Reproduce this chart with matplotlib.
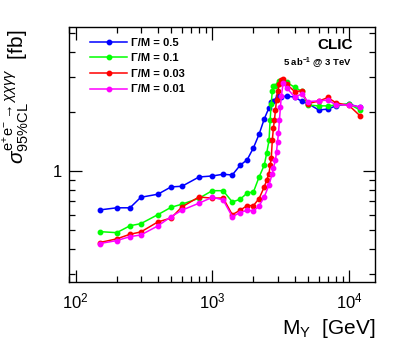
import matplotlib
matplotlib.use("Agg")
import matplotlib.pyplot as plt
from matplotlib.ticker import LogLocator, NullFormatter, FixedLocator, FixedFormatter

plt.rcParams['font.family'] = ['Liberation Sans', 'DejaVu Sans']
plt.rcParams['mathtext.fontset'] = 'custom'
plt.rcParams['mathtext.rm'] = 'Liberation Sans'
plt.rcParams['mathtext.it'] = 'Liberation Sans:italic'
plt.rcParams['mathtext.bf'] = 'Liberation Sans:bold'

# Γ/M = 0.5
m_05 = [150, 200, 250, 300, 400, 500, 600, 800, 1000, 1200, 1400, 1600, 1800, 2000,
        2200, 2400, 2600, 2700, 2800, 3000, 3200, 3500, 4000, 4500, 5000, 6000, 7000,
        8000, 10000, 12000]
s_05 = [0.634, 0.65, 0.65, 0.735, 0.762, 0.83, 0.836, 0.932, 0.943, 0.962, 0.954, 1.069,
        1.14, 1.31, 1.536, 1.836, 2.096, 2.23, 2.27, 2.40, 2.38, 2.40, 2.37, 2.26, 2.20,
        2.04, 2.06, 2.14, 2.19, 2.10]

# Γ/M = 0.1
m_01 = [150, 200, 250, 300, 400, 500, 600, 800, 1000, 1200, 1400, 1600, 1800, 2000,
        2200, 2400, 2500, 2600, 2650, 2700, 2750, 2800, 2900, 3000, 3100, 3200, 3500,
        4000, 4500, 5000, 6000, 7000, 8000, 10000, 12000]
s_01 = [0.492, 0.486, 0.527, 0.540, 0.600, 0.654, 0.678, 0.727, 0.794, 0.794, 0.696,
        0.718, 0.773, 0.782, 0.932, 1.07, 1.23, 1.43, 1.82, 2.2, 2.56, 2.70, 2.70, 2.76,
        2.85, 2.87, 2.82, 2.66, 2.54, 2.16, 2.14, 2.14, 2.16, 2.19, 2.04]

# Γ/M = 0.03
m_003 = [150, 200, 250, 300, 400, 500, 600, 800, 1000, 1200, 1400, 1600, 1800, 2000,
         2200, 2400, 2500, 2600, 2650, 2700, 2750, 2800, 2850, 2900, 2950, 3000, 3100,
         3200, 3300, 3500, 4000, 4500, 5000, 6000, 7000, 8000, 10000, 12000]
s_003 = [0.433, 0.452, 0.477, 0.490, 0.551, 0.577, 0.657, 0.738, 0.727, 0.729, 0.600,
         0.632, 0.667, 0.667, 0.724, 0.83, 0.90, 0.97, 1.07, 1.16, 1.44, 1.65, 1.82,
         2.04, 2.3, 2.55, 2.75, 2.88, 2.94, 2.76, 2.53, 2.55, 2.20, 2.26, 2.36, 2.22,
         2.15, 1.91]

# Γ/M = 0.01
m_001 = [150, 200, 250, 300, 400, 500, 600, 800, 1000, 1200, 1400, 1600, 1800, 2000,
         2200, 2400, 2600, 2750, 2800, 2900, 2950, 3000, 3050, 3100, 3150, 3200, 3300,
         3500, 4000, 4500, 5000, 6000, 7000, 8000, 10000, 12000]
s_001 = [0.428, 0.443, 0.464, 0.473, 0.526, 0.586, 0.632, 0.686, 0.735, 0.713, 0.586,
         0.615, 0.632, 0.626, 0.664, 0.738, 0.85, 0.97, 1.03, 1.14, 1.25, 1.41, 1.55,
         1.82, 2.1, 2.4, 2.79, 2.65, 2.37, 2.46, 2.25, 2.27, 2.29, 2.17, 2.16, 2.12]

labels = ['Γ/M = 0.5', 'Γ/M = 0.1', 'Γ/M = 0.03', 'Γ/M = 0.01']
colors = ['#0000ff', '#00ff00', '#ff0000', '#ff00ff']

fig = plt.figure(figsize=(4.07, 3.44), dpi=100)
ax = fig.add_axes([0.1695, 0.1802, 0.7519, 0.7413])

for m, s, c, lab in zip([m_05, m_01, m_003, m_001], [s_05, s_01, s_003, s_001], colors, labels):
    ax.plot(m, s, '-o', color=c, lw=1.1, ms=3.2, label=lab)

ax.set_xscale('log')
ax.set_yscale('log')
ax.set_xlim(89.5, 15500)
ax.set_ylim(0.273, 5.38)

ax.xaxis.set_major_locator(FixedLocator([100, 1000, 10000]))
ax.xaxis.set_major_formatter(FixedFormatter([r'$10^2$', r'$10^3$', r'$10^4$']))
ax.xaxis.set_minor_locator(LogLocator(base=10, subs=range(2, 10), numticks=20))
ax.xaxis.set_minor_formatter(NullFormatter())
ax.yaxis.set_major_locator(FixedLocator([1]))
ax.yaxis.set_major_formatter(FixedFormatter(['1']))
ax.yaxis.set_minor_locator(LogLocator(base=10, subs=range(2, 10), numticks=20))
ax.yaxis.set_minor_formatter(NullFormatter())

ax.tick_params(which='both', direction='in', top=True, right=True, width=0.9)
ax.tick_params(which='major', length=9, labelsize=12, pad=5)
ax.tick_params(which='minor', length=4.5)
ax.tick_params(axis='x', which='major', pad=7)
for sp in ax.spines.values():
    sp.set_linewidth(1.0)

ax.set_xlabel(r'M$_{\rm Y}$  [GeV]', fontsize=15, ha='right', x=1.0)
ax.set_ylabel(r'$\sigma^{\mathrm{e^{+}e^{-}}\rightarrow\chi\chi\gamma\gamma}_{\mathrm{95\%CL}}$  [fb]',
              fontsize=15, ha='right', y=1.0)
ax.yaxis.set_label_coords(-0.125, 0.99)

leg = ax.legend(loc='upper left', bbox_to_anchor=(0.055, 0.975), frameon=False,
                prop={'weight': 'bold', 'size': 8}, handlelength=3.3,
                handletextpad=0.35, labelspacing=0.5, borderaxespad=0)

ax.text(0.928, 0.929, 'CLIC', transform=ax.transAxes, ha='right', va='center',
        fontsize=11, fontweight='bold')
ax.text(0.925, 0.859, r'5 ab$^{\mathbf{-1}}$ @ 3 TeV', transform=ax.transAxes, ha='right',
        va='center', fontsize=6.8, fontweight='bold')

fig.savefig('out.png', dpi=100)
